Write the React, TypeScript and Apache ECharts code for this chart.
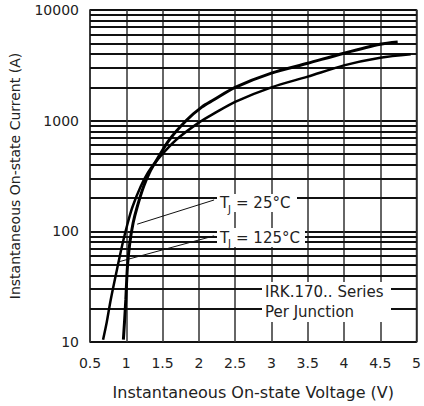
import React, { useEffect, useRef } from "react";
import * as echarts from "echarts";

// Tj = 25°C curve
const volt25 = [0.96, 0.975, 0.993, 1.016, 1.048, 1.094, 1.15, 1.24, 1.32, 1.4, 1.59, 1.83, 2.04, 2.2, 2.5, 3.0, 3.5, 4.0, 4.5, 4.74];
const amp25 = [10.5, 15, 24, 48, 78, 119, 166, 255, 340, 420, 668, 1010, 1326, 1535, 2000, 2690, 3300, 4070, 4900, 5130];
// Tj = 125°C curve
const volt125 = [0.68, 0.73, 0.785, 0.88, 0.95, 1.02, 1.085, 1.2, 1.3, 1.4, 1.55, 1.72, 2.0, 2.2, 2.5, 3.0, 3.5, 4.0, 4.5, 4.92];
const amp125 = [10.5, 15, 24, 48, 78, 119, 166, 255, 340, 420, 545, 700, 960, 1150, 1480, 2000, 2500, 3160, 3700, 3980];

const minorGrid = [20, 30, 40, 50, 60, 70, 80, 90, 200, 300, 400, 500, 600, 700, 800, 900, 2000, 3000, 4000, 5000, 6000, 7000, 8000, 9000];

const leader25 = [[1.15, 116], [2.21, 192]];
const leader125 = [[0.894, 53], [2.21, 91]];

const xTitle = "Instantaneous On-state Voltage (V)";
const yTitle = "Instantaneous On-state Current (A)";
const noteLine1 = "IRK.170.. Series";
const noteLine2 = "Per Junction";

const FONT = "DejaVu Sans, sans-serif";
const TXT = "#222";

function zip(xs: number[], ys: number[]) {
  return xs.map((x, i) => [x, ys[i]]);
}

function tjLabel(x: number, y: number, w: number, h: number, temp: string) {
  return {
    type: "group",
    z: 100,
    children: [
      { type: "rect", shape: { x, y, width: w, height: h }, style: { fill: "#fff" }, z: 100 },
      { type: "text", x: x + 3, y: y + h / 2, z: 101, style: { text: "T", fill: TXT, font: `15px ${FONT}`, textVerticalAlign: "middle" } },
      { type: "text", x: x + 11, y: y + h / 2 + 6, z: 101, style: { text: "J", fill: TXT, font: `10px ${FONT}`, textVerticalAlign: "middle" } },
      { type: "text", x: x + 19, y: y + h / 2, z: 101, style: { text: "= " + temp, fill: TXT, font: `15px ${FONT}`, textVerticalAlign: "middle" } },
    ],
  };
}

export default function App() {
  const ref = useRef<HTMLDivElement>(null);
  useEffect(() => {
    if (!ref.current) return;
    const chart = echarts.init(ref.current, null, { renderer: "svg" });
    chart.setOption({
      animation: false,
      backgroundColor: "#fff",
      grid: { left: 87, right: 6, top: 10, bottom: 64, show: true, borderColor: "#111", borderWidth: 1.5 },
      xAxis: {
        type: "value",
        min: 0.5,
        max: 5,
        interval: 0.5,
        name: xTitle,
        nameLocation: "middle",
        nameGap: 42,
        nameTextStyle: { fontFamily: FONT, fontSize: 16, color: TXT },
        axisLine: { show: false },
        axisTick: { show: false },
        axisLabel: { fontFamily: FONT, fontSize: 14, color: TXT, margin: 14, formatter: (v: number) => String(v) },
        splitLine: { show: true, lineStyle: { color: "#333", width: 1.5 } },
      },
      yAxis: {
        type: "log",
        logBase: 10,
        min: 10,
        max: 10000,
        name: yTitle,
        nameLocation: "middle",
        nameGap: 68,
        nameTextStyle: { fontFamily: FONT, fontSize: 14, color: TXT },
        axisLine: { show: false },
        axisTick: { show: false },
        axisLabel: { fontFamily: FONT, fontSize: 14, color: TXT, margin: 11, formatter: (v: number) => String(v) },
        splitLine: { show: true, lineStyle: { color: "#111", width: 2 } },
      },
      series: [
        {
          type: "line",
          data: [],
          silent: true,
          markLine: {
            silent: true,
            symbol: "none",
            label: { show: false },
            lineStyle: { color: "#111", width: 2, type: "solid" },
            data: minorGrid.map((v) => ({ yAxis: v })),
          },
        },
        {
          name: "Tj = 25°C",
          type: "line",
          data: zip(volt25, amp25),
          smooth: 0.3,
          showSymbol: false,
          lineStyle: { color: "#000", width: 3 },
          z: 5,
          markLine: {
            silent: true,
            symbol: "none",
            label: { show: false },
            lineStyle: { color: "#111", width: 1, type: "solid" },
            data: [[{ coord: leader25[0] }, { coord: leader25[1] }]],
          },
        },
        {
          name: "Tj = 125°C",
          type: "line",
          data: zip(volt125, amp125),
          smooth: 0.3,
          showSymbol: false,
          lineStyle: { color: "#000", width: 2.5 },
          z: 5,
          markLine: {
            silent: true,
            symbol: "none",
            label: { show: false },
            lineStyle: { color: "#111", width: 1, type: "solid" },
            data: [[{ coord: leader125[0] }, { coord: leader125[1] }]],
          },
        },
      ],
      graphic: [
        tjLabel(217, 194, 80, 18, "25°C"),
        tjLabel(217, 228, 88, 19, "125°C"),
        {
          type: "group",
          z: 100,
          children: [
            { type: "rect", shape: { x: 262, y: 282, width: 129, height: 40 }, style: { fill: "#fff" }, z: 100 },
            { type: "text", x: 265, y: 292, z: 101, style: { text: noteLine1, fill: TXT, font: `15px ${FONT}`, textVerticalAlign: "middle" } },
            { type: "text", x: 265, y: 312, z: 101, style: { text: noteLine2, fill: TXT, font: `15px ${FONT}`, textVerticalAlign: "middle" } },
          ],
        },
      ],
    });
    return () => chart.dispose();
  }, []);
  return <div ref={ref} style={{ width: 424, height: 406, position: "absolute", left: 0, top: 0 }} />;
}
